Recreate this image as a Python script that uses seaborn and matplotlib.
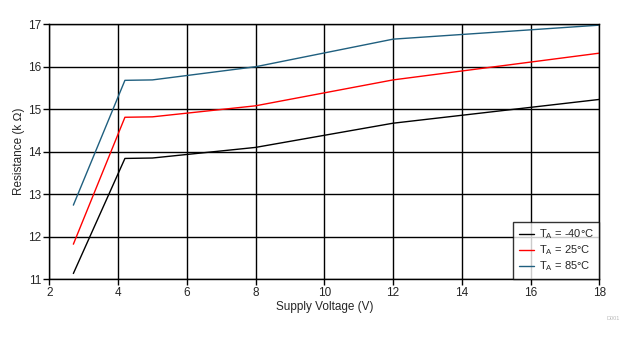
import matplotlib
matplotlib.use("Agg")
import matplotlib.pyplot as plt
import seaborn as sns
import pandas as pd

voltage = [2.7, 4.2, 5, 8, 12, 18]
r_m40 = [11.13, 13.84, 13.85, 14.10, 14.67, 15.23]
r_25 = [11.82, 14.81, 14.82, 15.08, 15.69, 16.32]
r_85 = [12.74, 15.68, 15.69, 16.00, 16.65, 16.98]
labels = [r"T$_\mathregular{A}$ = -40°C", r"T$_\mathregular{A}$ = 25°C", r"T$_\mathregular{A}$ = 85°C"]
colors = ["#000000", "#FF0000", "#1F5F7F"]
x_ticks = [2, 4, 6, 8, 10, 12, 14, 16, 18]
y_ticks = [11, 12, 13, 14, 15, 16, 17]

sns.set_theme(style="white")
plt.rcParams["font.family"] = ["Liberation Sans", "DejaVu Sans"]
plt.rcParams["mathtext.fontset"] = "custom"
plt.rcParams["mathtext.rm"] = "Liberation Sans"

df = pd.DataFrame({
    "V": voltage * 3,
    "R": r_m40 + r_25 + r_85,
    "T": [labels[0]] * len(voltage) + [labels[1]] * len(voltage) + [labels[2]] * len(voltage),
})

fig = plt.figure(figsize=(6.37, 3.38), dpi=100)
ax = fig.add_axes([49.3 / 637, 1 - 279 / 338, 550 / 637, (279 - 24.3) / 338])
sns.lineplot(data=df, x="V", y="R", hue="T", palette=colors, hue_order=labels,
             linewidth=1.0, ax=ax, sort=False)

ax.set_xlim(2, 18)
ax.set_ylim(11, 17)
ax.set_xticks(x_ticks)
ax.set_yticks(y_ticks)
ax.grid(True, color="black", linewidth=1.0)
ax.set_axisbelow(True)
for s in ax.spines.values():
    s.set_color("black")
    s.set_linewidth(1.0)
ax.tick_params(axis="both", direction="out", length=4, width=1, color="black",
               labelsize=8.5, pad=2, bottom=True, left=True)
ax.set_xlabel("Supply Voltage (V)", fontsize=8.5, labelpad=1)
ax.set_ylabel("Resistance (k \u2126)", fontsize=8.5, labelpad=2)

leg = ax.legend(loc="lower right", fontsize=8, frameon=True, fancybox=False,
                borderaxespad=0, handlelength=1.4, handletextpad=0.4,
                labelspacing=0.2, borderpad=0.5, title=None)
leg.get_frame().set_edgecolor("black")
leg.get_frame().set_linewidth(1.0)

fig.text(613 / 637, 1 - 318 / 338, "D001", fontsize=4, color="#BBBBBB", ha="center", va="center")

fig.savefig("out.png", dpi=100)
